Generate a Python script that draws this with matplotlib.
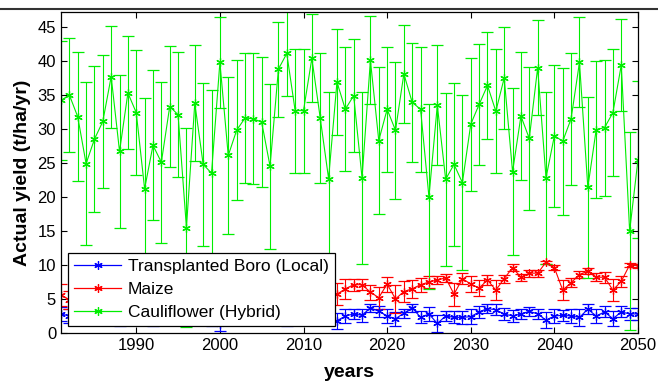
import matplotlib
matplotlib.use("Agg")
import matplotlib.pyplot as plt
from matplotlib.lines import Line2D

plt.rcParams['font.family'] = ['Liberation Sans', 'DejaVu Sans']

years = list(range(1981, 2051))

boro = [2.8, 2.5, 2.2, 2.6, 2.3, 2.7, 2.4, 2.1, 2.5, 2.8, 2.3, 2.0, 2.6, 2.4, 2.2, 2.7, 2.5, 2.3, 2.0, 1.3,
        2.4, 2.6, 2.2, 2.5, 2.8, 2.3, 2.6, 2.1, 2.4, 2.7, 2.2, 2.5, 2.3,
        1.8, 2.5, 2.8, 2.6, 3.7, 3.2, 2.5, 2.1, 2.9, 3.7, 2.3, 2.8, 1.4, 2.5, 2.3,
        2.3, 2.4, 3.1, 3.6, 3.4, 2.8, 2.5, 2.8, 3.2, 2.8, 1.9, 2.5, 2.6, 2.5, 2.3, 3.5, 2.5, 3.1, 2.1, 3.1, 2.8, 2.8]
boro_err = [1.0] * 33 + [1.2, 1.0, 0.7, 1.0, 0.6, 0.8, 1.0, 1.0, 0.7, 0.6, 0.9, 1.0, 1.2, 0.8, 0.9,
                         1.0, 1.15, 0.85, 0.7, 0.8, 0.85, 0.9, 0.8, 0.65, 0.8, 1.2, 1.0, 0.85, 1.0, 1.2,
                         0.7, 1.0, 0.8, 1.1, 0.8, 0.9, 0.9]

maize = [5.6, 4.9, 5.2, 4.8, 5.5, 5.1, 5.9, 5.3, 4.7, 5.6, 6.0, 5.4, 5.8, 6.2, 5.1, 5.7, 6.3, 5.5, 6.0, 6.6,
         5.8, 6.1, 6.7, 5.9, 6.4, 6.9, 6.2, 6.6, 7.0, 6.3, 6.8, 6.1, 6.5,
         5.7, 6.5, 7.1, 7.1, 6.0, 5.2, 7.2, 5.0, 6.1, 6.5, 7.1, 7.5, 7.8, 8.1, 5.7,
         8.0, 7.2, 6.6, 7.8, 6.3, 8.0, 9.6, 8.2, 8.8, 8.8, 10.4, 9.6, 6.3, 7.4, 8.6, 9.1, 8.2, 8.2, 6.3, 7.6, 10.0, 9.9]
maize_err = [1.6] + [1.3] * 32 + [1.6, 1.5, 0.9, 0.8, 1.1, 1.6, 1.1, 2.0, 1.5, 1.3, 1.0, 0.9, 0.6, 0.6, 1.7,
                                  0.8, 1.2, 1.2, 0.8, 1.5, 0.6, 0.5, 0.5, 0.5, 0.5, 0.2, 0.4, 1.5, 0.7, 0.5,
                                  0.4, 0.6, 0.8, 1.6, 0.8, 0.3, 0.3]

cauli = [34.2, 35.0, 31.8, 24.9, 28.5, 31.1, 37.7, 26.7, 35.3, 32.4, 21.2, 27.6, 25.1, 33.3, 32.1, 15.5, 33.8,
         24.8, 23.5, 39.8, 26.1, 29.8, 31.6, 31.5, 31.0, 24.5, 38.8, 41.1, 32.7, 32.7, 40.4, 31.6, 22.7, 36.9,
         32.9, 34.9, 22.8, 40.1, 28.3, 32.9, 29.8, 38.1, 33.9, 32.9, 20.0, 33.5, 22.6, 24.8, 22.1, 30.7, 33.6,
         36.4, 32.6, 37.5, 23.7, 31.9, 28.6, 39.0, 22.8, 29.0, 28.2, 31.5, 39.8, 21.4, 29.9, 30.2, 32.4, 39.4,
         15.0, 25.5]
cauli_err = [8.7, 8.4, 9.5, 12.0, 10.7, 9.8, 7.5, 11.2, 8.3, 9.2, 13.3, 11.0, 11.8, 8.9, 9.2, 14.6, 8.5,
             12.0, 12.3, 6.7, 11.6, 10.3, 9.6, 9.6, 9.6, 12.1, 7.0, 6.2, 9.1, 9.1, 6.5, 9.6, 12.7, 7.8,
             9.1, 8.3, 12.6, 6.5, 10.8, 9.2, 10.1, 7.2, 8.8, 9.2, 13.6, 8.8, 12.7, 12.0, 12.9, 9.8, 8.9,
             7.9, 9.1, 7.5, 12.3, 9.4, 10.5, 7.0, 12.6, 10.4, 10.8, 9.7, 6.6, 13.3, 10.1, 10.0, 9.3, 6.8,
             14.6, 11.5]

labels = ['Transplanted Boro (Local)', 'Maize', 'Cauliflower (Hybrid)']
colors = ['#0000ff', '#ff0000', '#00ee00']

fig = plt.figure(figsize=(6.58, 3.82), dpi=100)
ax = fig.add_axes([61/658, 1 - 333/382, (638 - 61)/658, (333 - 12)/382])

asterisk = (6, 2, 0)
handles = []
for vals, errs, lab, col in zip([boro, maize, cauli], [boro_err, maize_err, cauli_err], labels, colors):
    ax.errorbar(years, vals, yerr=errs, color=col, ecolor=col, lw=0.8, elinewidth=0.8,
                capsize=4, capthick=0.8, marker=asterisk, markersize=6, markeredgewidth=0.9)
    handles.append(Line2D([], [], color=col, lw=0.9, marker=asterisk, markersize=6,
                          markeredgewidth=0.9, label=lab))

ax.set_xlim(1981, 2050)
ax.set_ylim(0, 47.2)
ax.set_xticks([1990, 2000, 2010, 2020, 2030, 2040, 2050])
ax.set_yticks(range(0, 50, 5))
ax.tick_params(direction='in', top=True, right=True, labelsize=12, length=4, width=0.8, colors='black')
for s in ax.spines.values():
    s.set_linewidth(0.9)

ax.set_xlabel('years', fontsize=14, fontweight='bold', labelpad=8)
ax.set_ylabel('Actual yield (t/ha/yr)', fontsize=14, fontweight='bold', labelpad=5)

leg = ax.legend(handles=handles, loc='lower left', bbox_to_anchor=(7/577, 7/321), fontsize=12.5,
                frameon=True, fancybox=False, edgecolor='black', framealpha=1, handlelength=2.7,
                borderpad=0.35, labelspacing=0.45, handletextpad=0.4, borderaxespad=0)
leg.get_frame().set_linewidth(0.9)

fig.add_artist(Line2D([0, 1], [1 - 9/382, 1 - 9/382], color='#333333', lw=1.5))

fig.savefig('out.png', dpi=100)
